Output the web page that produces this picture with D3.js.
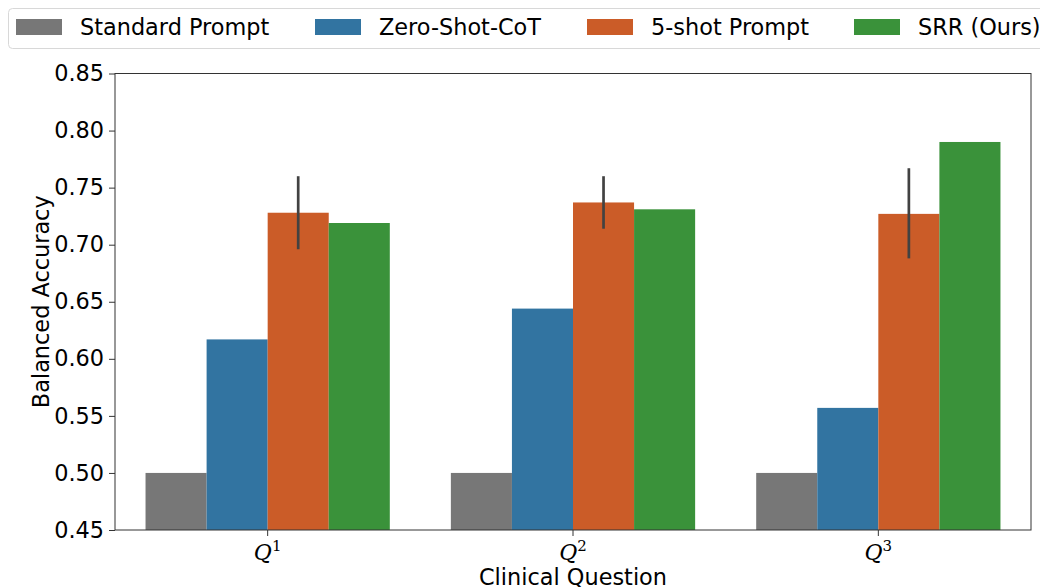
<!DOCTYPE html>
<html>
<head>
<meta charset="utf-8">
<script src="https://cdn.jsdelivr.net/npm/d3@7"></script>
<style>
  html, body { margin: 0; padding: 0; background: #fff; }
  svg { display: block; font-family: "DejaVu Sans", sans-serif; }
</style>
</head>
<body>
<svg id="chart" width="1040" height="587"></svg>
<script>
// Clinical questions on the x axis
const questions = ["1", "2", "3"];
// Prompting methods (legend order)
const methods = ["Standard Prompt", "Zero-Shot-CoT", "5-shot Prompt", "SRR (Ours)"];
const colors = ["#777777", "#3274a1", "#cb5c28", "#3a923a"];

// Balanced accuracy per method, one entry per question
const standardVals = [0.500, 0.500, 0.500];
const zeroShotVals = [0.617, 0.644, 0.557];
const fiveShotVals = [0.728, 0.737, 0.727];
const srrVals      = [0.719, 0.731, 0.790];

// 5-shot error bar extents (low, high)
const fiveShotLow  = [0.696, 0.714, 0.688];
const fiveShotHigh = [0.760, 0.760, 0.767];

const yTicks = [0.45, 0.50, 0.55, 0.60, 0.65, 0.70, 0.75, 0.80, 0.85];

const seriesVals = [standardVals, zeroShotVals, fiveShotVals, srrVals];

const svg = d3.select("#chart");
const margin = { left: 115, right: 1031, top: 73.5, bottom: 530 };
const fontSize = 22.4;

const x = d3.scaleBand().domain(questions).range([margin.left, margin.right]).paddingInner(0).paddingOuter(0);
const groupInner = 0.8;
const xSub = d3.scaleBand().domain(methods).range([0, x.bandwidth() * groupInner]);
const y = d3.scaleLinear().domain([0.45, 0.85]).range([margin.bottom, margin.top]);

const plot = svg.append("g");

// bars
methods.forEach((m, mi) => {
  plot.selectAll(null)
    .data(questions.map((q, qi) => ({ q, v: seriesVals[mi][qi] })))
    .join("rect")
    .attr("x", d => x(d.q) + x.bandwidth() * (1 - groupInner) / 2 + xSub(m))
    .attr("width", xSub.bandwidth())
    .attr("y", d => y(d.v))
    .attr("height", d => y(0.45) - y(d.v))
    .attr("fill", colors[mi]);
});

// error bars for the 5-shot prompt
plot.selectAll(null)
  .data(questions.map((q, qi) => ({ q, lo: fiveShotLow[qi], hi: fiveShotHigh[qi] })))
  .join("line")
  .attr("x1", d => x(d.q) + x.bandwidth() * (1 - groupInner) / 2 + xSub("5-shot Prompt") + xSub.bandwidth() / 2)
  .attr("x2", d => x(d.q) + x.bandwidth() * (1 - groupInner) / 2 + xSub("5-shot Prompt") + xSub.bandwidth() / 2)
  .attr("y1", d => y(d.lo))
  .attr("y2", d => y(d.hi))
  .attr("stroke", "#424242")
  .attr("stroke-width", 2.7);

// axes frame
svg.append("rect")
  .attr("x", margin.left).attr("y", margin.top)
  .attr("width", margin.right - margin.left).attr("height", margin.bottom - margin.top)
  .attr("fill", "none").attr("stroke", "#333").attr("stroke-width", 1);

// y axis
const yAxis = svg.append("g")
  .attr("transform", `translate(${margin.left},0)`)
  .call(d3.axisLeft(y).tickValues(yTicks).tickFormat(d3.format(".2f")).tickSize(6).tickPadding(5));
yAxis.select(".domain").remove();
yAxis.selectAll("line").attr("stroke", "#333");
yAxis.selectAll("text").attr("font-size", fontSize).attr("fill", "#000").attr("font-family", "DejaVu Sans");

// x axis
const xAxis = svg.append("g")
  .attr("transform", `translate(0,${margin.bottom})`)
  .call(d3.axisBottom(x).tickSize(6).tickFormat(""));
xAxis.select(".domain").remove();
xAxis.selectAll("line").attr("stroke", "#333");
xAxis.selectAll(".tick").each(function(d) {
  const t = d3.select(this).append("text")
    .attr("y", 30).attr("text-anchor", "middle").attr("fill", "#000")
    .attr("font-family", "DejaVu Serif").attr("font-size", 22);
  t.append("tspan").attr("font-style", "italic").text("Q");
  t.append("tspan").attr("dy", -9).attr("font-size", 15).text(d);
});

// axis titles
svg.append("text")
  .attr("x", (margin.left + margin.right) / 2).attr("y", 585)
  .attr("text-anchor", "middle").attr("font-size", fontSize).text("Clinical Question");
svg.append("text")
  .attr("transform", `translate(49,${(margin.top + margin.bottom) / 2}) rotate(-90)`)
  .attr("text-anchor", "middle").attr("font-size", fontSize).text("Balanced Accuracy");

// legend
const legend = svg.append("g");
legend.append("rect")
  .attr("x", 8.5).attr("y", 8.5).attr("width", 1050).attr("height", 40)
  .attr("rx", 4).attr("fill", "#fff").attr("stroke", "#d8d8d8").attr("stroke-width", 1);
const legendX = [16, 315, 587, 854];
methods.forEach((m, i) => {
  legend.append("rect")
    .attr("x", legendX[i]).attr("y", 19).attr("width", 46).attr("height", 16)
    .attr("fill", colors[i]);
  legend.append("text")
    .attr("x", legendX[i] + 64).attr("y", 34.5)
    .attr("font-size", fontSize).attr("fill", "#000").text(m);
});
</script>
</body>
</html>
